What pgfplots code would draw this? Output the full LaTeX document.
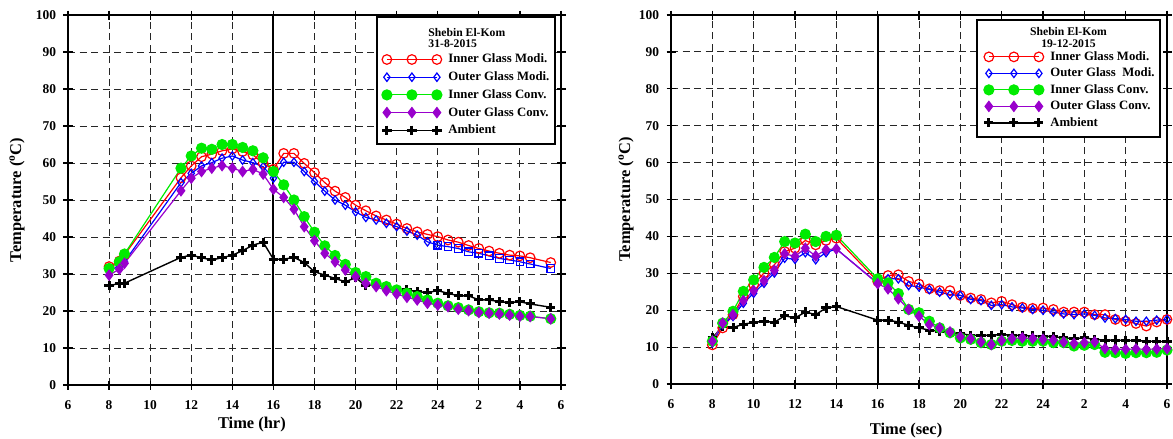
\documentclass[border=0pt]{standalone}
\usepackage{fontspec}
\setmainfont{Liberation Serif}
\usepackage{pgfplots}
\usepackage{pgfplotstable}
\pgfplotsset{compat=1.18}

\definecolor{cRed}{RGB}{255,0,0}
\definecolor{cBlue}{RGB}{0,0,255}
\definecolor{cGreen}{RGB}{0,235,0}
\definecolor{cPurple}{RGB}{153,0,204}

% x  innerModi  outerModi  innerConv  outerConv  ambient
\pgfplotstableread{
x     r     b     g     p     k
8     32.0  31.1  31.5  29.7  26.8
8.5   33.5  32.0  33.3  31.3  27.5
8.75  35.2  33.3  35.4  32.9  27.5
11.5  56.0  54.7  58.6  52.5  34.5
12    59.2  57.2  61.9  55.9  35.1
12.5  61.7  59.2  64.0  57.7  34.4
13    62.4  60.1  63.7  58.6  33.8
13.5  63.3  61.3  65.0  59.3  34.4
14    63.8  61.9  65.0  58.6  35.1
14.5  63.1  60.8  64.2  57.7  36.3
15    62.2  60.1  63.3  58.3  37.8
15.5  59.9  59.0  61.4  57.0  38.6
16    58.3  55.9  57.7  52.9  34.0
16.5  62.6  60.2  54.1  50.7  34.0
17    62.6  60.2  50.0  47.5  34.5
17.5  59.9  57.7  45.5  42.8  33.1
18    57.4  55.0  41.3  39.0  30.6
18.5  54.7  52.4  37.6  35.6  29.7
19    52.4  50.0  35.0  33.3  28.8
19.5  50.7  48.6  32.6  31.1  27.9
20    48.6  46.8  30.4  29.3  29.0
20.5  47.1  45.3  29.3  27.5  26.8
21    45.7  44.6  27.5  26.6  27.3
21.5  44.6  43.7  26.6  25.5  26.1
22    43.5  42.8  25.7  24.6  25.9
22.5  42.3  41.6  24.8  23.7  25.7
23    41.4  40.5  23.9  23.0  25.2
23.5  40.7  38.7  23.0  22.1  25.0
24    40.1  37.8  22.1  21.6  25.5
24.5  39.2  37.4  21.4  21.2  24.8
25    38.6  36.9  20.9  20.5  24.1
25.5  37.7  36.0  20.3  20.1  24.1
26    36.9  35.6  19.8  19.6  23.0
26.5  36.2  34.9  19.5  19.4  23.0
27    35.6  34.2  19.4  19.2  22.5
27.5  35.1  33.8  19.1  18.9  22.3
28    34.9  33.3  18.8  18.6  22.5
28.5  34.4  32.7  18.6  18.5  21.9
29.5  33.1  31.5  17.9  17.9  21.0
}\tabA

\pgfplotstableread{
x     r     b     g     p     k
8     10.6  11.1  11.6  11.6  12.5
8.5   15.2  16.1  16.5  16.5  15.6
9     18.8  18.3  19.7  18.8  15.3
9.5   23.7  21.9  25.1  22.6  16.2
10    26.9  24.6  28.2  25.3  16.7
10.5  30.1  27.3  31.6  28.0  17.0
11    32.3  30.1  34.3  30.8  16.7
11.5  35.9  34.1  38.6  35.3  18.5
12    36.8  33.8  38.2  34.6  17.9
12.5  38.9  35.6  40.6  36.8  19.5
13    37.7  33.7  38.6  34.7  18.8
13.5  38.9  35.6  40.0  36.4  20.6
14    39.5  36.6  40.3  36.6  21.0
16    27.8  27.3  28.5  27.2  17.3
16.5  29.4  28.5  27.4  25.8  17.3
17    29.6  28.5  24.5  23.1  16.8
17.5  27.8  26.7  20.2  20.2  15.9
18    27.1  26.3  19.3  18.4  15.2
18.5  25.8  25.6  17.0  16.1  14.6
19    25.3  24.9  15.2  15.2  14.3
19.5  25.3  24.2  13.9  14.1  13.9
20    24.0  24.0  12.5  12.8  13.7
20.5  23.3  22.9  12.1  12.3  13.2
21    22.9  22.6  11.2  11.4  13.2
21.5  22.0  21.3  10.7  10.7  13.2
22    22.4  21.5  11.6  11.8  13.4
22.5  21.5  20.9  11.8  12.3  13.2
23    20.8  20.6  11.6  12.5  13.2
23.5  20.5  20.2  11.6  12.3  13.0
24    20.6  20.0  11.6  12.1  13.0
24.5  20.2  19.5  11.2  11.9  12.8
25    19.5  19.0  11.2  11.4  12.5
25.5  19.5  18.8  10.3  11.0  12.3
26    19.5  19.0  10.5  11.2  12.5
26.5  18.8  18.6  10.7  11.4  12.1
27    18.8  17.9  8.6   9.6   11.9
27.5  17.5  17.7  8.5   9.4   11.9
28    17.0  17.5  8.3   9.4   11.8
28.5  16.4  17.0  8.5   9.5   11.8
29    15.7  17.0  8.5   9.4   11.6
29.5  16.8  17.3  8.6   9.5   11.6
30    17.5  17.5  9.2   9.6   11.4
}\tabB

\newcommand{\labfont}{\fontsize{16.5}{18}\selectfont\bfseries}
\newcommand{\titfont}{\fontsize{11.7}{13}\selectfont\bfseries}

\pgfplotsset{
  sInM/.style={cRed, line width=1.2bp, mark=o, mark size=4.8bp, mark options={solid, line width=1.2bp}},
  sOutM/.style={cBlue, line width=1.2bp, mark=diamond, mark size=4.2bp, mark options={solid, line width=1.2bp}},
  sOutMsq/.style={cBlue, line width=1.2bp, mark=square, mark size=3.8bp, mark options={solid, line width=1.2bp}},
  sInC/.style={cGreen, line width=1.2bp, mark=*, mark size=5bp, mark options={solid, fill=cGreen}},
  sOutC/.style={cPurple, line width=1.2bp, mark=diamond*, mark size=5bp, mark options={solid, fill=cPurple}},
  sAmb/.style={black, line width=1.4bp, mark=+, mark size=4.6bp, mark options={solid, line width=3bp}},
  myaxis/.style={
    scale only axis,
    xmin=6, xmax=30, ymin=0, ymax=100,
    xtick={6,8,...,30},
    xticklabels={6,8,10,12,14,16,18,20,22,24,2,4,6},
    ytick={0,10,...,100},
    grid=major,
    major grid style={black!85, line width=1bp, dash pattern=on 7bp off 4.5bp},
    axis line style={black, line width=1.8bp},
    tick style={black, line width=1.2bp},
    major tick length=9bp, tick align=center,
    tick label style={font=\fontsize{13.5}{15}\selectfont\bfseries},
    /pgf/number format/assume math mode=true,
    xticklabel style={yshift=-8bp},
    yticklabel style={xshift=-4bp},
    ylabel={Temperature (\textsuperscript{o}C)},
    legend style={draw=none, fill=none, inner sep=0pt, column sep=6bp,
      font=\fontsize{12.8}{14}\selectfont\bfseries,
      nodes={inner sep=0.5bp, text height=9bp, text depth=2bp},
      cells={anchor=west}},
    legend image code/.code={\draw[##1] plot coordinates {(0bp,0bp) (25bp,0bp) (50bp,0bp)};},
  },
}

\begin{document}
\begin{tikzpicture}
\path[use as bounding box] (0,0) rectangle (1173bp,-439bp);

% ---------------- left panel ----------------
\begin{axis}[myaxis,
  at={(68bp,-385bp)}, anchor=south west,
  width=493bp, height=370bp,
  xlabel={Time (hr)},
  every axis x label/.style={at={(axis description cs:0.373,-0.108)}, anchor=center, font=\labfont},
  every axis y label/.style={at={(axis description cs:-0.1034,0.5)}, rotate=90, anchor=center, font=\labfont},
  legend style={at={(axis description cs:0.6363,0.8965)}, anchor=north west, row sep=5.7bp},
]
\addplot[black, line width=2bp, forget plot] coordinates {(16,0) (16,100)};
\addplot[sAmb, forget plot] table[x=x, y=k] {\tabA};
\addplot[sInM] table[x=x, y=r] {\tabA};
\addlegendentry{Inner Glass Modi.}
\addplot[sOutM, restrict x to domain=6:24] table[x=x, y=b] {\tabA};
\addlegendentry{Outer Glass Modi.}
\addplot[sOutMsq, restrict x to domain=24:30, forget plot] table[x=x, y=b] {\tabA};
\addplot[sInC] table[x=x, y=g] {\tabA};
\addlegendentry{Inner Glass Conv.}
\addplot[sOutC] table[x=x, y=p] {\tabA};
\addlegendentry{Outer Glass Conv.}
\addlegendimage{sAmb}
\addlegendentry{Ambient}
\draw[black, line width=1.2bp, fill=white] (axis description cs:0.6268,0.9946) rectangle (axis description cs:0.9878,0.6514);
\node[anchor=west, inner sep=0pt, font=\titfont] at (axis description cs:0.7308,0.9522) {Shebin El-Kom};
\node[anchor=west, inner sep=0pt, font=\titfont] at (axis description cs:0.7308,0.9216) {31-8-2015};
\end{axis}

% ---------------- right panel ----------------
\begin{axis}[myaxis,
  at={(671bp,-384bp)}, anchor=south west,
  width=496bp, height=369bp,
  xlabel={Time (sec)},
  every axis x label/.style={at={(axis description cs:0.474,-0.127)}, anchor=center, font=\labfont},
  every axis y label/.style={at={(axis description cs:-0.0907,0.5)}, rotate=90, anchor=center, font=\labfont},
  legend style={at={(axis description cs:0.6304,0.9033)}, anchor=north west, row sep=4.5bp},
]
\addplot[black, line width=2bp, forget plot] coordinates {(16,0) (16,100)};
\addplot[sAmb, forget plot] table[x=x, y=k] {\tabB};
\addplot[sInM] table[x=x, y=r] {\tabB};
\addlegendentry{Inner Glass Modi.}
\addplot[sOutM] table[x=x, y=b] {\tabB};
\addlegendentry{Outer Glass\ \ Modi.}
\addplot[sInC] table[x=x, y=g] {\tabB};
\addlegendentry{Inner Glass Conv.}
\addplot[sOutC] table[x=x, y=p] {\tabB};
\addlegendentry{Outer Glass Conv.}
\addlegendimage{sAmb}
\addlegendentry{Ambient}
\draw[black, line width=1.2bp, fill=white] (axis description cs:0.6169,0.9864) rectangle (axis description cs:0.9859,0.6694);
\node[anchor=center, inner sep=0pt, font=\titfont] at (axis description cs:0.8014,0.9547) {Shebin El-Kom};
\node[anchor=center, inner sep=0pt, font=\titfont] at (axis description cs:0.8014,0.9233) {19-12-2015};
\end{axis}
\end{tikzpicture}
\end{document}
